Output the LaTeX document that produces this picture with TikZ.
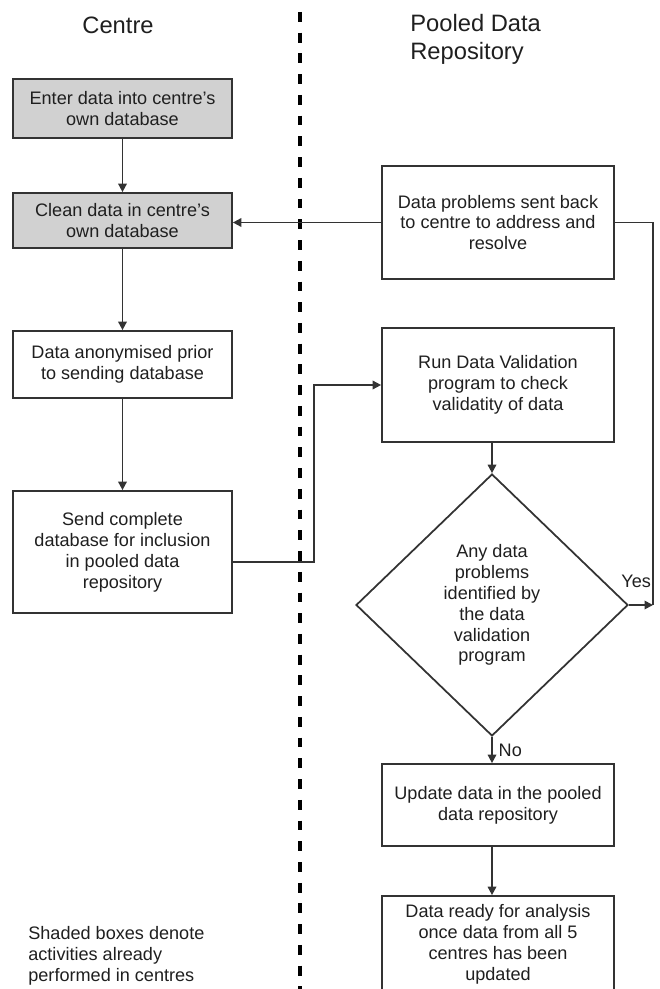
\documentclass[tikz,border=0pt]{standalone}
\usepackage{fontspec}
\setmainfont{Liberation Sans}
\usetikzlibrary{arrows.meta,shapes.geometric}

\begin{document}
\begin{tikzpicture}[x=0.02cm,y=-0.02cm,
    every node/.style={font=\fontsize{10.3}{11.9}\selectfont,text=black!88},
    box/.style={draw=black!80,line width=1pt,minimum width=4.38cm,inner sep=0pt,align=center},
    done/.style={box,fill=black!18},
    check/.style={draw=black!80,line width=1pt,shape=diamond,minimum width=5.44cm,minimum height=5.24cm,inner sep=0pt,align=center},
    arr/.style={draw=black!80,line width=1pt,-{Triangle[length=1.7mm,width=1.7mm]}},
    link/.style={draw=black!80,line width=1pt},
    lane/.style={line width=2.3pt,dash pattern=on 5.6pt off 6.2pt},
    lanehead/.style={font=\fontsize{13.5}{15.9}\selectfont}]
    \useasboundingbox (0,0) rectangle (659,989);

    % lanes
    \node[lanehead] (centre) at (118,25) {Centre};
    \node[lanehead,anchor=west,align=left,inner sep=0pt] (pooled) at (410,39) {Pooled Data\\Repository};
    \coordinate (lanetop) at (300,12);
    \coordinate (lanebot) at (300,989);
    \draw[lane] (lanetop) -- (lanebot);

    % centre side
    \node[done,minimum height=1.18cm] (enter) at (122.5,108.5) {Enter data into centre's\\own database};
    \node[done,minimum height=1.1cm] (clean) at (122.5,220.5) {Clean data in centre's\\own database};
    \node[box,minimum height=1.34cm] (anon) at (122.5,364.5) {Data anonymised prior\\to sending database};
    \node[box,minimum height=2.44cm] (send) at (122.5,552) {Send complete\\database for inclusion\\in pooled data\\repository};

    % repository side
    \node[box,minimum width=4.64cm,minimum height=2.26cm] (back) at (498,222.5) {Data problems sent back\\to centre to address and\\resolve};
    \node[box,minimum width=4.64cm,minimum height=2.28cm] (run) at (498,385) {Run Data Validation\\program to check\\validatity of data};
    \node[check] (any) at (492,605) {Any data\\problems\\identified by\\the data\\validation\\program};
    \node[box,minimum width=4.64cm,minimum height=1.64cm] (update) at (498,805) {Update data in the pooled\\data repository};
    \node[box,minimum width=4.64cm,minimum height=1.92cm] (ready) at (498,944) {Data ready for analysis\\once data from all 5\\centres has been\\updated};

    \node[anchor=west,align=left,inner sep=0pt] (note) at (28,956) {Shaded boxes denote\\activities already\\performed in centres};

    \coordinate (jog) at (314,562);
    \coordinate (ret) at (653,605);

    \draw[arr] (enter) -- (clean);
    \draw[arr] (clean) -- (anon);
    \draw[arr] (anon) -- (send);
    \draw[arr] (send.east |- jog) -- (jog) |- (run.west);
    \draw[arr] (run.south -| any.north) -- (any.north);
    \draw[arr] (any.east) -- (ret) node[pos=0.3,above=6pt] {Yes};
    \draw[link] (back.east) -| (ret);
    \draw[arr] (back.west) -- (back.west -| clean.east);
    \draw[arr] (any.south) -- (any.south |- update.north) node[midway,right] {No};
    \draw[arr] (any.south |- update.south) -- (any.south |- ready.north);
\end{tikzpicture}
\end{document}
